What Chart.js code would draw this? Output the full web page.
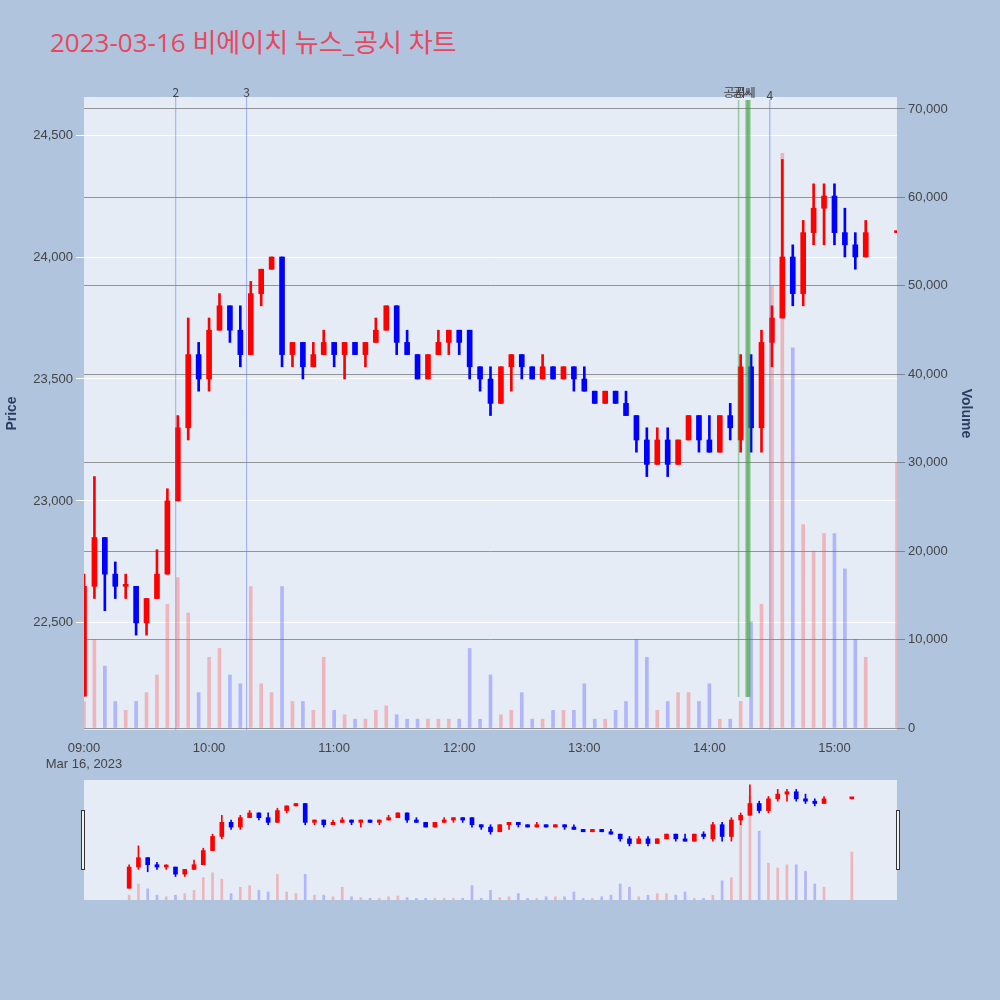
<!DOCTYPE html>
<html><head><meta charset="utf-8">
<script src="https://cdn.jsdelivr.net/npm/chart.js@4"></script>
<style>
body{margin:0;background:#B0C4DE;width:1000px;height:1000px;overflow:hidden;font-family:"Open Sans",sans-serif;}
#title{position:absolute;left:50px;top:22px;font-size:26px;color:#E8475F;font-family:"Open Sans","Noto Sans CJK KR",sans-serif;}
#c1{position:absolute;left:0;top:0;}
#c2{position:absolute;left:0;top:780px;}
</style></head><body>
<div id="title">2023-03-16 비에이치 뉴스_공시 차트</div>
<canvas id="c1" width="1000" height="780"></canvas>
<canvas id="c2" width="1000" height="120"></canvas>
<script>
// minutes from 09:00
const times=[0,5,10,15,20,25,30,35,40,45,50,55,60,65,70,75,80,85,90,95,100,105,110,115,120,125,130,135,140,145,150,155,160,165,170,175,180,185,190,195,200,205,210,215,220,225,230,235,240,245,250,255,260,265,270,275,280,285,290,295,300,305,310,315,320,325,330,335,340,345,350,355,360,365,370,375,390];
const opens =[22200,22650,22850,22700,22650,22650,22500,22600,22700,23000,23300,23600,23500,23700,23800,23700,23600,23850,23950,24000,23600,23650,23550,23600,23650,23600,23650,23600,23650,23700,23800,23650,23600,23500,23600,23650,23700,23700,23550,23500,23400,23550,23600,23550,23500,23550,23500,23550,23500,23450,23400,23450,23400,23350,23250,23150,23250,23150,23250,23350,23250,23200,23350,23250,23550,23300,23650,23750,24000,23850,24100,24200,24250,24100,24050,24000,24100];
const highs =[22700,23100,22850,22750,22700,22650,22600,22800,23050,23350,23750,23650,23750,23850,23800,23800,23900,23950,24000,24000,23650,23650,23650,23700,23650,23650,23650,23650,23750,23800,23800,23700,23600,23600,23700,23700,23700,23700,23550,23550,23550,23600,23600,23550,23600,23550,23550,23550,23550,23450,23450,23450,23450,23350,23300,23300,23300,23250,23350,23350,23350,23350,23400,23600,23600,23700,23800,24400,24050,24150,24300,24300,24300,24200,24100,24150,24100];
const lows  =[22200,22600,22550,22600,22600,22450,22450,22600,22700,23000,23250,23450,23450,23700,23650,23550,23600,23800,23950,23550,23550,23500,23550,23600,23550,23500,23600,23550,23650,23700,23600,23600,23500,23500,23600,23600,23600,23500,23450,23350,23400,23450,23500,23500,23500,23500,23500,23450,23450,23400,23400,23400,23350,23200,23100,23150,23100,23150,23250,23200,23200,23200,23250,23200,23200,23200,23550,23750,23800,23800,24050,24050,24050,24000,23950,24000,24100];
const closes=[22650,22850,22700,22650,22650,22500,22600,22700,23000,23300,23600,23500,23700,23800,23700,23600,23850,23950,24000,23600,23650,23550,23600,23650,23600,23650,23600,23650,23700,23800,23650,23600,23500,23600,23650,23700,23650,23550,23500,23400,23550,23600,23550,23500,23550,23500,23550,23500,23450,23400,23450,23400,23350,23250,23150,23250,23150,23250,23350,23250,23200,23350,23300,23550,23300,23650,23750,24000,23850,24100,24200,24250,24100,24050,24000,24100,24100];
const volumes=[3000,10000,7000,3000,2000,3000,4000,6000,14000,17000,13000,4000,8000,9000,6000,5000,16000,5000,4000,16000,3000,3000,2000,8000,2000,1500,1000,1000,2000,2500,1500,1000,1000,1000,1000,1000,1000,9000,1000,6000,1500,2000,4000,1000,1000,2000,2000,2000,5000,1000,1000,2000,3000,10000,8000,2000,3000,4000,4000,3000,5000,1000,1000,3000,12000,14000,50000,65000,43000,23000,20000,22000,22000,18000,10000,8000,30000];
const markers=[{t:44,label:'2',c:'rgba(100,130,240,0.6)',top:97,bot:730},{t:78,label:'3',c:'rgba(100,130,240,0.6)',top:97,bot:730},{t:329,label:'4',c:'rgba(100,130,240,0.7)',top:100,bot:730},{t:314,label:'공시',c:'rgba(60,160,60,0.45)',top:100,bot:697},{t:318,label:'공시',c:'rgba(60,160,60,0.6)',top:100,bot:697},{t:319,label:'공시',c:'rgba(60,160,60,0.6)',top:100,bot:697}];
const priceTicks=[22500,23000,23500,24000,24500];
const volTicks=[0,10000,20000,30000,40000,50000,60000,70000];

const up=i=>closes[i]>=opens[i];
const wick=times.map((t,i)=>({x:t,y:[lows[i],highs[i]]}));
const body=times.map((t,i)=>({x:t,y:[opens[i],closes[i]]}));
const vol=times.map((t,i)=>({x:t,y:volumes[i]}));
const cCol=c=>up(c.dataIndex)?'#FF0000':'#0000FF';
const vCol=c=>up(c.dataIndex)?'rgba(255,80,80,0.35)':'rgba(80,80,255,0.35)';
const fmt=v=>{const h=9+Math.floor(v/60),m=v%60;return String(h).padStart(2,'0')+':'+String(m).padStart(2,'0');};
const tc='#444';

const markPlugin={id:'marks',afterDatasetsDraw(ch){
  const ctx=ch.ctx,x=ch.scales.x;ctx.save();
  markers.forEach((m,k)=>{const px=x.getPixelForValue(m.t);
    ctx.strokeStyle=m.c;ctx.lineWidth=m.label==='공시'?(k===3?1.5:3):1;
    ctx.beginPath();ctx.moveTo(px,m.top);ctx.lineTo(px,m.bot);ctx.stroke();
    ctx.fillStyle='#444';ctx.font='12px "Noto Sans CJK KR", "Open Sans"';ctx.textAlign='center';ctx.textBaseline='bottom';
    ctx.fillText(m.label,px+(m.label==='공시'?-4:0),m.top-(m.label==='공시'?2:-1));
  });ctx.restore();}};

new Chart(document.getElementById('c1'),{
  data:{datasets:[
    {type:'bar',label:'vol',data:vol,yAxisID:'yv',backgroundColor:vCol,barThickness:3,grouped:false,order:3},
    {type:'bar',label:'wick',data:wick,yAxisID:'y',backgroundColor:cCol,barThickness:2,grouped:false,order:2},
    {type:'bar',label:'body',data:body,yAxisID:'y',backgroundColor:cCol,barThickness:5,minBarLength:2,grouped:false,order:1}
  ]},
  options:{responsive:false,animation:false,
    layout:{padding:{top:97,left:0,right:22,bottom:0}},
    plugins:{legend:{display:false},tooltip:{enabled:false}},
    scales:{
      x:{type:'linear',min:0,max:390,offset:false,grid:{display:false},border:{display:false},
        afterFit:s=>{s.height=50;},
        afterBuildTicks:s=>{s.ticks=[0,60,120,180,240,300,360].map(v=>({value:v}));},
        ticks:{color:tc,font:{size:13},maxRotation:0,callback:v=>v===0?['09:00','Mar 16, 2023']:fmt(v)}},
      y:{position:'left',min:22061,max:24656,afterFit:s=>{s.width=84;},
        afterBuildTicks:s=>{s.ticks=priceTicks.map(v=>({value:v}));},
        grid:{color:'#FFFFFF',lineWidth:1},border:{display:false},
        title:{display:true,text:'Price',color:'#2a3f5f',font:{size:14,weight:'bold'}},
        ticks:{color:tc,font:{size:13},callback:v=>v.toLocaleString('en-US')}},
      yv:{position:'right',min:-226,max:71357,afterFit:s=>{s.width=81;},
        afterBuildTicks:s=>{s.ticks=volTicks.map(v=>({value:v}));},
        grid:{color:'rgba(90,90,90,0.6)',lineWidth:1},border:{display:false},
        title:{display:true,text:'Volume',color:'#2a3f5f',font:{size:14,weight:'bold'}},
        ticks:{color:tc,font:{size:13},callback:v=>v.toLocaleString('en-US')}}
    }},
  plugins:[{id:'bg',beforeDraw(ch){const a=ch.chartArea,c=ch.ctx;c.save();c.fillStyle='#E5ECF6';c.fillRect(a.left,a.top,a.right-a.left,a.bottom-a.top);c.restore();}},markPlugin]
});

new Chart(document.getElementById('c2'),{
  data:{datasets:[
    {type:'bar',data:vol,yAxisID:'yv',backgroundColor:vCol,barThickness:2,grouped:false,order:3},
    {type:'bar',data:wick,yAxisID:'y',backgroundColor:cCol,barThickness:1,grouped:false,order:2},
    {type:'bar',data:body,yAxisID:'y',backgroundColor:cCol,barThickness:4,minBarLength:2,grouped:false,order:1}
  ]},
  options:{responsive:false,animation:false,
    layout:{padding:{left:84,right:103,top:0,bottom:0}},
    plugins:{legend:{display:false},tooltip:{enabled:false}},
    scales:{x:{type:'linear',min:0,max:390,display:false},
      y:{min:21950,max:24500,display:false},
      yv:{min:0,max:75000,display:false}}},
  plugins:[{id:'bg2',beforeDraw(ch){const a=ch.chartArea,c=ch.ctx;c.save();c.fillStyle='#E5ECF6';c.fillRect(a.left,a.top,a.right-a.left,a.bottom-a.top);c.restore();},
    afterDraw(ch){const a=ch.chartArea,c=ch.ctx;c.save();c.fillStyle='#F2F2F2';c.strokeStyle='#333';c.lineWidth=1;
      [a.left-3,a.right-1].forEach(x=>{c.fillRect(x,30,4,60);c.strokeRect(x+0.5,30.5,3,59);});c.restore();}}]
});
</script></body></html>
